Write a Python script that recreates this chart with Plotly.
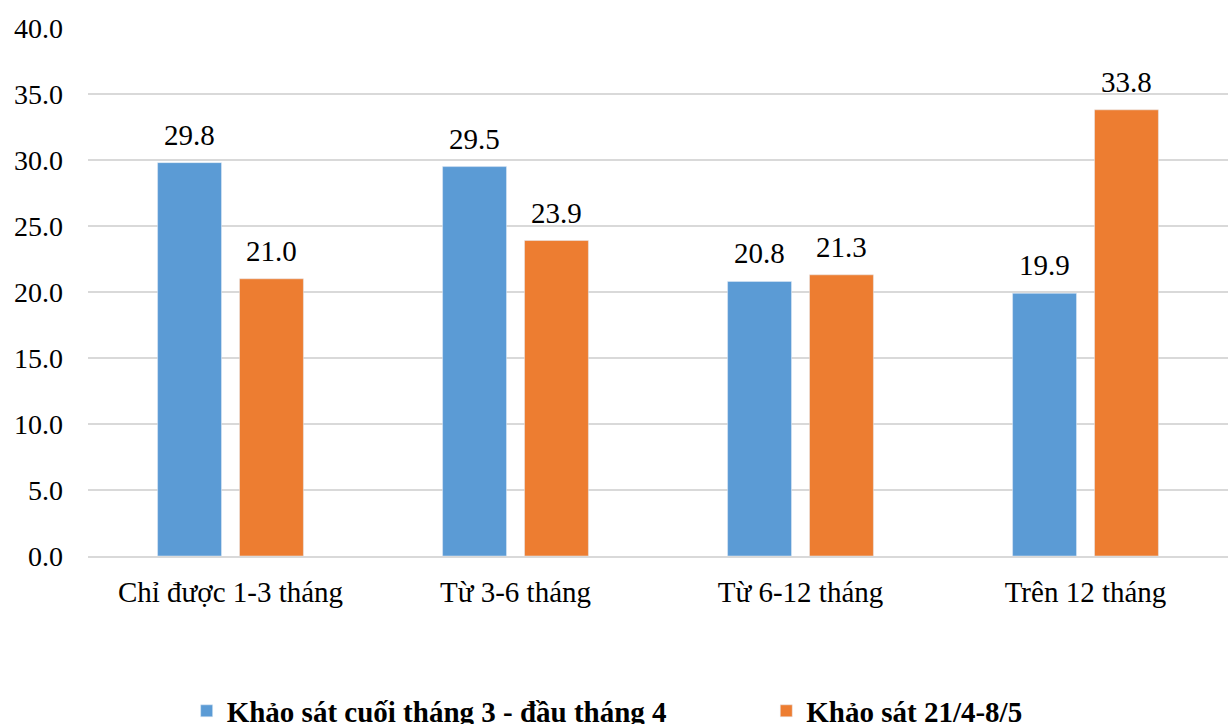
import plotly.graph_objects as go

categories = ["Chỉ được 1-3 tháng", "Từ 3-6 tháng", "Từ 6-12 tháng", "Trên 12 tháng"]
series_names = ["Khảo sát cuối tháng 3 - đầu tháng 4", "Khảo sát 21/4-8/5"]
survey_early = [29.8, 29.5, 20.8, 19.9]
survey_late = [21.0, 23.9, 21.3, 33.8]
colors = ["#5B9BD5", "#ED7D31"]

FONT = "Liberation Serif"
SIZE = 29

fig = go.Figure()
legends = ["legend", "legend2"]
for i, (name, vals, col) in enumerate(zip(series_names, [survey_early, survey_late], colors)):
    fig.add_trace(go.Bar(
        x=categories, y=vals, name=name, marker_color=col,
        offsetgroup=str(i), legend=legends[i],
    ))

# value labels sit a little above each bar
for i, vals in enumerate([survey_early, survey_late]):
    for j, v in enumerate(vals):
        fig.add_annotation(
            x=j, y=v, xref="x", yref="y",
            text=f"{v:.1f}", showarrow=False,
            xshift=(-41 if i == 0 else 41), yshift=28,
            font=dict(family=FONT, size=SIZE, color="#000000"),
        )

legend_style = dict(
    orientation="h", xref="container", xanchor="left",
    yref="container", y=0.018, yanchor="middle",
    font=dict(family=FONT, size=SIZE, color="#000000", weight="bold"),
)

fig.update_layout(
    width=1228, height=724,
    margin=dict(l=88, r=0, t=28, b=168),
    paper_bgcolor="white", plot_bgcolor="white",
    barmode="group", bargap=0.425, bargroupgap=0.22,
    font=dict(family=FONT, size=SIZE, color="#000000"),
    showlegend=True,
    legend=dict(x=0.152, **legend_style),
    legend2=dict(x=0.624, **legend_style),
    xaxis=dict(
        showgrid=False, showline=True, linecolor="#d9d9d9", linewidth=1.5,
        ticks="", ticklabelstandoff=9,
        tickfont=dict(family=FONT, size=SIZE, color="#000000"),
    ),
    yaxis=dict(
        range=[0, 40], dtick=5, tickformat=".1f",
        showgrid=True, gridcolor="#d9d9d9", gridwidth=1.5,
        zeroline=False, showline=False, ticks="",
        ticklabelstandoff=24,
        tickfont=dict(family=FONT, size=28, color="#000000"),
    ),
)

fig.write_html("out.html")
